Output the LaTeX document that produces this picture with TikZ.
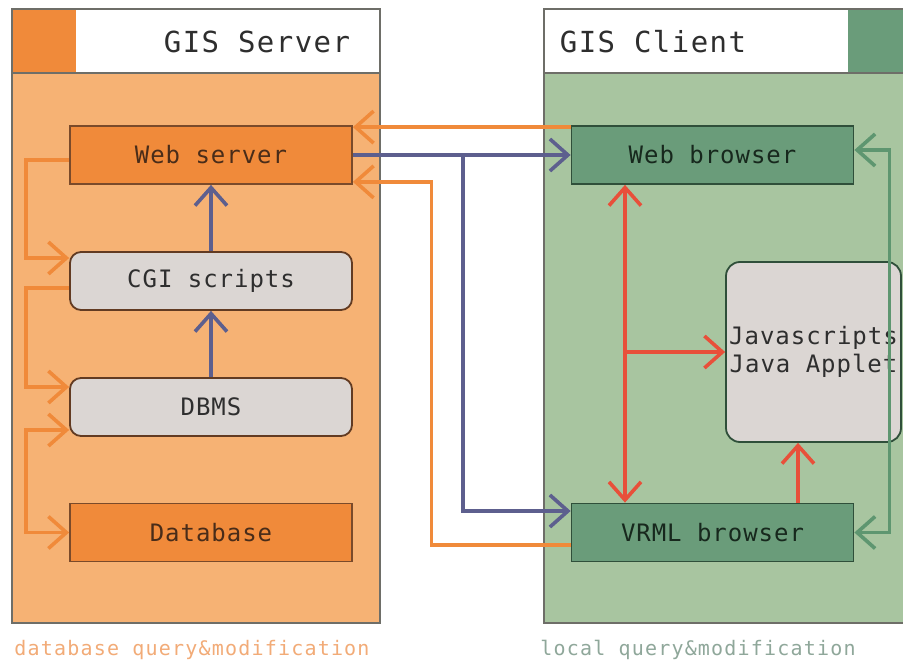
\documentclass[tikz,border=0pt]{standalone}
\usepackage{fontspec}
\usetikzlibrary{arrows.meta}
\newfontfamily\hdfont[LetterSpace=5]{DejaVu Sans Mono}
\newfontfamily\bxfont[LetterSpace=4]{DejaVu Sans Mono}
\newfontfamily\cpfont[LetterSpace=6]{DejaVu Sans Mono}
\definecolor{srvbody}{HTML}{F6B274}
\definecolor{srvdark}{HTML}{F08A3A}
\definecolor{srvedge}{HTML}{7A4A2A}
\definecolor{clibody}{HTML}{A8C5A0}
\definecolor{clidark}{HTML}{6A9C7A}
\definecolor{cliedge}{HTML}{2F4F3A}
\definecolor{panedge}{HTML}{6E6E68}
\definecolor{greybox}{HTML}{DBD6D3}
\definecolor{arrblue}{HTML}{5D5F8E}
\definecolor{arrorange}{HTML}{F08A3A}
\definecolor{arrred}{HTML}{E8503A}
\definecolor{arrgreen}{HTML}{5E9670}
\definecolor{capleft}{HTML}{F2AB77}
\definecolor{capright}{HTML}{8FA79A}
\definecolor{txtdark}{HTML}{2E2E2E}
\tikzset{
  boxbase/.style={draw, line width=1.8pt, minimum width=282pt, minimum height=58pt,
    inner sep=0pt, font=\bxfont\fontsize{24}{28}\selectfont, align=center},
  obox/.style={boxbase, fill=srvdark, draw=srvedge, text=srvedge!60!black},
  gbox/.style={boxbase, fill=greybox, draw=srvedge!80!black, rounded corners=11pt, text=txtdark},
  grbox/.style={boxbase, fill=clidark, draw=cliedge, text=cliedge!50!black},
  cgbox/.style={boxbase, fill=greybox, draw=cliedge, rounded corners=14pt, text=txtdark,
    minimum width=175pt, minimum height=180pt},
  chev/.tip={Straight Barb[length=18pt,width=32pt]},
  conn/.style={line width=3.6pt},
  barrow/.style={conn, draw=arrblue, -chev},
  oarrow/.style={conn, draw=arrorange, -chev},
  oarrowtwo/.style={conn, draw=arrorange, chev-chev},
  rarrow/.style={conn, draw=arrred, -chev},
  rarrowtwo/.style={conn, draw=arrred, chev-chev},
  garrowtwo/.style={conn, draw=arrgreen, chev-chev},
  pantitle/.style={font=\hdfont\fontsize{29}{32}\selectfont, text=txtdark},
  caption/.style={font=\cpfont\fontsize{20}{23}\selectfont}
}
\begin{document}
\begin{tikzpicture}[x=1pt,y=-1pt]
\useasboundingbox (0,0) rectangle (903,663);
\clip (0,0) rectangle (903,663);
\fill[white] (0,0) rectangle (903,663);
% server panel
\fill[srvbody] (12,73) rectangle (380,623);
\fill[white] (12,9) rectangle (380,73);
\fill[srvdark] (12,9) rectangle (76,73);
\draw[panedge, line width=1.8pt] (12,73) -- (380,73);
\draw[panedge, line width=1.8pt] (12,9) rectangle (380,623);
\node[pantitle] (srvtitle) at (257,42) {GIS Server};
% client panel
\fill[clibody] (544,73) rectangle (912,623);
\fill[white] (544,9) rectangle (912,73);
\fill[clidark] (848,9) rectangle (912,73);
\draw[panedge, line width=1.8pt] (544,73) -- (912,73);
\draw[panedge, line width=1.8pt] (544,9) rectangle (912,623);
\node[pantitle] (clititle) at (653,42) {GIS Client};
% captions
\node[caption, text=capleft] (capl) at (192,650) {database query\&modification};
\node[caption, text=capright] (capr) at (698,650) {local query\&modification};
% nodes
\node[obox] (ws) at (211,155) {Web server};
\node[gbox] (cgi) at (211,281) {CGI scripts};
\node[gbox] (dbms) at (211,407) {DBMS};
\node[obox] (db) at (211,532.5) {Database};
\node[grbox] (wb) at (712.5,155) {Web browser};
\node[grbox] (vb) at (712.5,532.5) {VRML browser};
\node[cgbox] (ja) at (813.5,352) {Javascripts\\Java Applet};
% blue
\draw[barrow] (cgi.north) -- (ws.south);
\draw[barrow] (dbms.north) -- (cgi.south);
\coordinate (bj) at (463,155);
\draw[barrow] (ws.east) -- (wb.west);
\draw[barrow] (bj) |- ([yshift=21.5pt]vb.west);
% orange between panels
\draw[oarrow] ([yshift=-2pt]wb.north west) -- ([yshift=-2pt]ws.north east);
\draw[oarrow] ([yshift=-12.5pt]vb.west) -- ++(-139,0) |- ([yshift=3pt]ws.south east);
% orange left loops
\draw[oarrow] ([yshift=-5pt]ws.west) -- ++(-43,0) |- ([yshift=23pt]cgi.west);
\draw[oarrow] ([yshift=-7pt]cgi.west) -- ++(-43,0) |- ([yshift=20pt]dbms.west);
\draw[oarrowtwo] ([yshift=-23pt]dbms.west) -- ++(-43,0) |- (db.west);
% red
\draw[rarrowtwo] ([xshift=-87.5pt]wb.south) -- ([xshift=-87.5pt]vb.north);
\coordinate (rj) at (625,352);
\draw[rarrow] (rj) -- (ja.west);
\draw[rarrow] ([xshift=85.5pt]vb.north) -- ([xshift=85.5pt]vb.north |- ja.south);
% green
\draw[garrowtwo] ([yshift=5pt]wb.east) -- ++(35,0) |- (vb.east);
\end{tikzpicture}
\end{document}
